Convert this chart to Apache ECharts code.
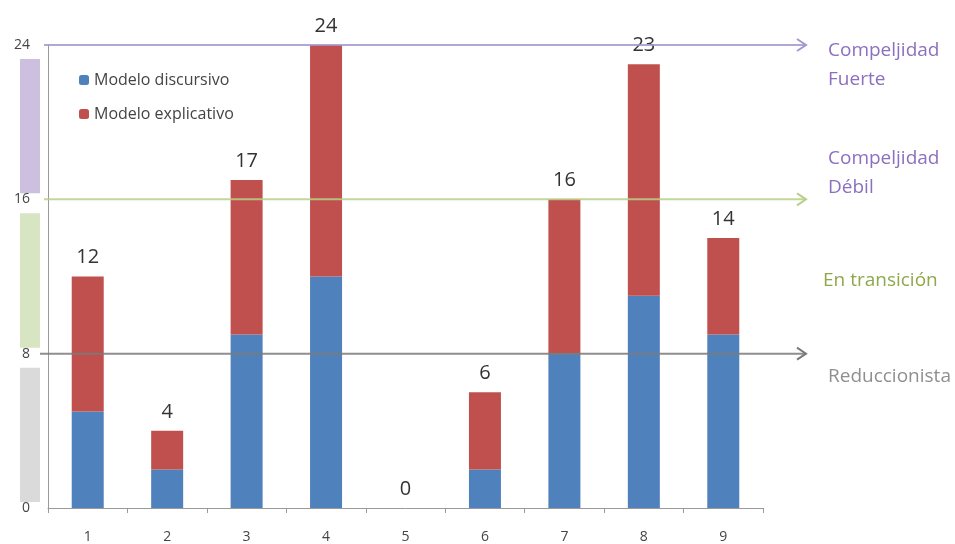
<!DOCTYPE html>
<html><head><meta charset="utf-8">
<script src="https://cdn.jsdelivr.net/npm/echarts@6/dist/echarts.min.js"></script>
<style>html,body{margin:0;padding:0;background:#fff}#c{width:955px;height:544px}</style>
</head><body><div id="c"></div>
<script>
const categories = ['1','2','3','4','5','6','7','8','9'];
const discursivo = [5, 2, 9, 12, 0, 2, 8, 11, 9];
const explicativo = [7, 2, 8, 12, 0, 4, 8, 12, 5];
const totals = [12, 4, 17, 24, 0, 6, 16, 23, 14];
const yTicks = [0, 8, 16, 24];
const levels = [
  {value: 24, line: '#a497cc', band: '#cdbfdf', from: 24, to: 16, color: '#8c6fbe'},
  {value: 16, line: '#b9d08a', band: '#d8e5c3', from: 16, to: 8, color: '#8fa84c'},
  {value: 8, line: '#7a7a7a', band: '#dadada', from: 8, to: 0, color: '#8f8f8f'}
];
const font = 'Open Sans, Liberation Sans, sans-serif';
const chart = echarts.init(document.getElementById('c'));
chart.setOption({
  animation: false,
  textStyle: {fontFamily: font},
  grid: {left: 48, right: 192, top: 45, bottom: 36},
  legend: {
    orient: 'vertical', left: 74, top: 67, itemWidth: 10, itemHeight: 10, itemGap: 18,
    textStyle: {fontSize: 16, color: '#444', fontFamily: font},
    data: ['Modelo discursivo', 'Modelo explicativo']
  },
  xAxis: {
    type: 'category', data: categories,
    axisLine: {lineStyle: {color: '#999'}},
    axisTick: {show: true, length: 5, lineStyle: {color: '#999'}},
    axisLabel: {margin: 22, fontSize: 14, color: '#444'}
  },
  yAxis: {
    type: 'value', min: 0, max: 24, interval: 8,
    axisLine: {show: true, lineStyle: {color: '#999'}},
    axisTick: {show: false},
    splitLine: {show: false},
    axisLabel: {margin: 18, fontSize: 14, color: '#444', formatter: v => yTicks.includes(v) ? String(v) : ''}
  },
  series: [
    {name: 'Modelo discursivo', type: 'bar', stack: 't', barWidth: 32, data: discursivo, itemStyle: {color: '#4f81bd'}, z: 2},
    {name: 'Modelo explicativo', type: 'bar', stack: 't', barWidth: 32, data: explicativo, itemStyle: {color: '#c0504d'}, z: 2,
     label: {show: true, position: 'top', distance: 9, fontSize: 20, color: '#333', backgroundColor: '#fff', padding: [0, 2],
       formatter: p => String(totals[p.dataIndex])}}
  ]
});

function build() {
  const els = [];
  const yPix = v => chart.convertToPixel({yAxisIndex: 0}, v);
  levels.forEach(l => {
    const y1 = yPix(l.from), y2 = yPix(l.to);
    els.push({type: 'rect', shape: {x: 20, y: y1 + 14, width: 20, height: y2 - y1 - 20}, style: {fill: l.band}, z: 0});
  });
  levels.forEach(l => {
    const y = yPix(l.value);
    const x0 = l.value === 8 ? 40 : 44;
    els.push({type: 'line', shape: {x1: x0, y1: y, x2: 806, y2: y}, style: {stroke: l.line, lineWidth: 2, opacity: 0.85}, z: 3});
    els.push({type: 'polyline', shape: {points: [[797, y - 6], [806, y], [797, y + 6]]}, style: {stroke: l.line, lineWidth: 2, fill: null}, z: 3});
  });
  const addText = (t, x, y, c) => els.push({type: 'text', x: x, y: y, style: {text: t, fill: c, font: '19px ' + font, textVerticalAlign: 'middle'}, z: 5});
  addText('Compeljidad', 828, yPix(24) + 6, levels[0].color);
  addText('Fuerte', 828, yPix(24) + 35, levels[0].color);
  addText('Compeljidad', 828, yPix(16) - 41, levels[0].color);
  addText('Débil', 828, yPix(16) - 12, levels[0].color);
  addText('En transición', 823, yPix(16) + 81, levels[1].color);
  addText('Reduccionista', 828, yPix(8) + 23, levels[2].color);
  chart.setOption({graphic: {elements: els}});
}
build();
</script></body></html>
